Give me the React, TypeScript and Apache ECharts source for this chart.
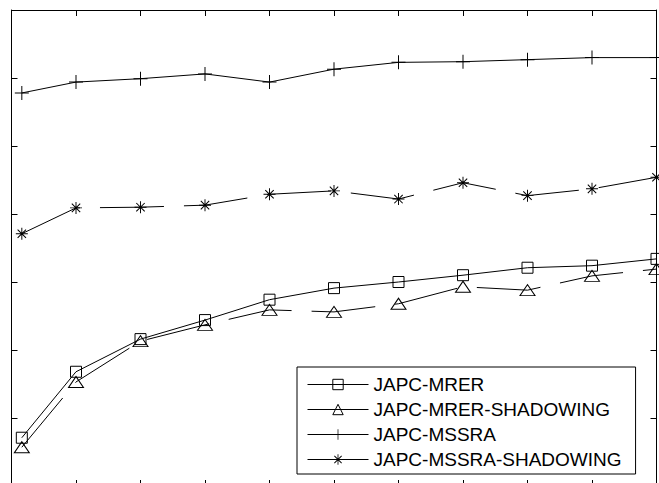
import { useEffect, useRef } from "react";
import * as echarts from "echarts";

const xValues = [1.6, 10, 20, 30, 40, 50, 60, 70, 80, 90, 100];
const seriesNames = ["JAPC-MRER", "JAPC-MRER-SHADOWING", "JAPC-MSSRA", "JAPC-MSSRA-SHADOWING"];
const mrer = [0.71, 1.68, 2.16, 2.44, 2.74, 2.91, 3.0, 3.1, 3.21, 3.24, 3.34];
const mrerShadowing = [0.57, 1.53, 2.13, 2.37, 2.59, 2.56, 2.68, 2.93, 2.88, 3.09, 3.19];
const mssra = [5.78, 5.94, 5.99, 6.06, 5.94, 6.13, 6.23, 6.24, 6.27, 6.3, 6.3];
const mssraShadowing = [3.71, 4.09, 4.1, 4.13, 4.29, 4.34, 4.22, 4.46, 4.27, 4.37, 4.54];
const xRange = { min: 0, max: 100, interval: 10 };
const yRange = { min: 0, max: 7, interval: 1 };

const PLUS =
  "path://M-0.07,-1 L0.07,-1 L0.07,1 L-0.07,1 Z M-1,-0.07 L1,-0.07 L1,0.07 L-1,0.07 Z";
const STAR =
  "path://M-0.08,-1 L0.08,-1 L0.08,1 L-0.08,1 Z M-1,-0.08 L1,-0.08 L1,0.08 L-1,0.08 Z " +
  "M-0.64,-0.76 L0.76,0.64 L0.64,0.76 L-0.76,-0.64 Z M-0.76,0.64 L0.64,-0.76 L0.76,-0.64 L-0.64,0.76 Z";

const FONT = 'Arial, "Liberation Sans", sans-serif';

function pairs(vals: number[]) {
  return xValues.map((x, i) => [x, vals[i]]);
}

function axisCommon(extra: any) {
  return {
    type: "value",
    ...extra,
    axisLine: { show: true, onZero: false, lineStyle: { color: "#000", width: 1 } },
    axisTick: { show: true, inside: true, length: 6, lineStyle: { color: "#000", width: 1 } },
    axisLabel: { show: false },
    splitLine: { show: false },
  };
}

export default function App() {
  const ref = useRef<HTMLDivElement>(null);
  useEffect(() => {
    if (!ref.current) return;
    const chart = echarts.init(ref.current, undefined, { renderer: "svg" });
    const lineBase = { color: "#000", width: 1 };
    const dashed = { ...lineBase, type: [64, 20] as any };
    chart.setOption({
      animation: false,
      backgroundColor: "#fff",
      grid: { left: 11.5, top: 10, width: 645, height: 476, outerBoundsMode: "none" },
      xAxis: [
        axisCommon({ ...xRange, position: "bottom" }),
        axisCommon({ ...xRange, position: "top" }),
      ],
      yAxis: [
        axisCommon({ ...yRange, position: "left" }),
        axisCommon({ ...yRange, position: "right" }),
      ],
      legend: {
        data: seriesNames,
        orient: "vertical",
        left: 297,
        top: 367,
        padding: [8, 14, 5, 10],
        itemWidth: 61,
        itemHeight: 13,
        itemGap: 6,
        borderColor: "#000",
        borderWidth: 1,
        backgroundColor: "#fff",
        lineStyle: { type: "solid", color: "#000", width: 1 },
        itemStyle: { borderWidth: 1 },
        textStyle: { fontSize: 19, fontFamily: FONT, color: "#000" },
        z: 10,
      },
      series: [
        {
          name: seriesNames[0],
          type: "line",
          data: pairs(mrer),
          symbol: "rect",
          symbolSize: 11,
          lineStyle: lineBase,
          itemStyle: { color: "transparent", borderColor: "#000", borderWidth: 1 },
        },
        {
          name: seriesNames[1],
          type: "line",
          data: pairs(mrerShadowing),
          symbol: "triangle",
          symbolSize: [15, 11],
          lineStyle: dashed,
          itemStyle: { color: "transparent", borderColor: "#000", borderWidth: 1 },
        },
        {
          name: seriesNames[2],
          type: "line",
          data: pairs(mssra),
          symbol: PLUS,
          symbolSize: 14,
          lineStyle: lineBase,
          itemStyle: { color: "#000", borderWidth: 0 },
        },
        {
          name: seriesNames[3],
          type: "line",
          data: pairs(mssraShadowing),
          symbol: STAR,
          symbolSize: 12,
          lineStyle: dashed,
          itemStyle: { color: "#000", borderWidth: 0 },
        },
      ],
    });
    return () => chart.dispose();
  }, []);
  return (
    <div
      ref={ref}
      style={{ position: "fixed", left: 0, top: 0, width: 659, height: 483 }}
    />
  );
}
